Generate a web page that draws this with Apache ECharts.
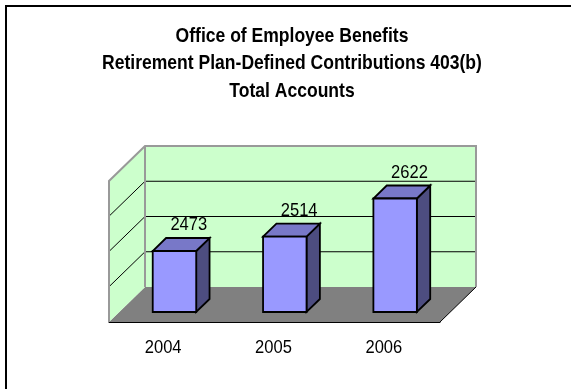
<!DOCTYPE html>
<html>
<head>
<meta charset="utf-8">
<script src="https://cdn.jsdelivr.net/npm/echarts@6/dist/echarts.min.js"></script>
<style>
  html, body { margin: 0; padding: 0; background: #fff; }
  #chart { width: 571px; height: 389px; }
</style>
</head>
<body>
<div id="chart"></div>
<script>
// Chart content
const titleLines = [
  'Office of Employee Benefits',
  'Retirement Plan-Defined Contributions 403(b)',
  'Total Accounts'
];
const years = ['2004', '2005', '2006'];
const accounts = [2473, 2514, 2622];
const valueMin = 2300;
const valueMax = 2700;
const valueStep = 100;
const wallLines = [2400, 2500, 2600];

// Oblique projection: pixel offset from the front plane to the back wall
const DEPTH = [36, -35];
// Bar depth range (0 = front edge of floor, 1 = back wall) and half width as share of a band
const BAR_FRONT = 0.286;
const BAR_BACK = 0.657;
const BAR_HALF = 0.197;

const FONT = "'Liberation Sans', Arial, sans-serif";
// tall, slightly condensed lettering
const NUM_FONT = '18.6px ' + FONT;
const NUM_SCALE_X = 0.89;
const TITLE_FONT = 'bold 20.5px ' + FONT;
const TITLE_SCALE_X = 0.855;

function shift(p, d) {
  return [p[0] + DEPTH[0] * d, p[1] + DEPTH[1] * d];
}

// Walls, floor and wall gridlines, built from the grid's own scales
function renderWalls(params, api) {
  const cs = params.coordSys;
  const left = cs.x;
  const right = cs.x + cs.width;
  const bottom = api.coord([0, valueMin])[1];
  const top = api.coord([0, valueMax])[1];

  const children = [];
  children.push({
    type: 'polygon',
    shape: { points: [[left, bottom], [right, bottom], shift([right, bottom], 1), shift([left, bottom], 1)] },
    style: { fill: '#808080', stroke: null }
  });
  children.push({
    type: 'polygon',
    shape: { points: [shift([left, top], 1), shift([right, top], 1), shift([right, bottom], 1), shift([left, bottom], 1)] },
    style: { fill: '#CCFFCC', stroke: null }
  });
  children.push({
    type: 'polygon',
    shape: { points: [[left, top], shift([left, top], 1), shift([left, bottom], 1), [left, bottom]] },
    style: { fill: '#CCFFCC', stroke: null }
  });
  wallLines.forEach(function (v) {
    const y = api.coord([0, v])[1];
    children.push({
      type: 'polyline',
      shape: { points: [[left, y], shift([left, y], 1), shift([right, y], 1)] },
      style: { stroke: '#000', lineWidth: 1, fill: null }
    });
  });
  children.push({
    type: 'polyline',
    shape: { points: [[left, bottom], [left, top], shift([left, top], 1), shift([right, top], 1), shift([right, bottom], 1)] },
    style: { stroke: '#999999', lineWidth: 2, fill: null }
  });
  const bt = shift([left, top], 1), bb = shift([left, bottom], 1);
  children.push({
    type: 'line',
    shape: { x1: bt[0], y1: bt[1], x2: bb[0], y2: bb[1] },
    style: { stroke: '#999999', lineWidth: 2 }
  });
  const fr = shift([right, bottom], 1);
  children.push({
    type: 'line',
    shape: { x1: right, y1: bottom, x2: fr[0], y2: fr[1] },
    style: { stroke: '#000', lineWidth: 1 }
  });
  return { type: 'group', children: children };
}

// One 3D column per year, its value above and the year below the floor
function renderBar(params, api) {
  const idx = api.value(0);
  const v = api.value(1);
  const topPt = api.coord([idx, v]);
  const basePt = api.coord([idx, valueMin]);
  const band = api.size([1, 0])[0];
  const hw = band * BAR_HALF;
  const x0 = topPt[0] - hw, x1 = topPt[0] + hw;
  const yt = topPt[1], yb = basePt[1];

  const ftl = shift([x0, yt], BAR_FRONT), ftr = shift([x1, yt], BAR_FRONT);
  const fbr = shift([x1, yb], BAR_FRONT), fbl = shift([x0, yb], BAR_FRONT);
  const btl = shift([x0, yt], BAR_BACK), btr = shift([x1, yt], BAR_BACK);
  const bbr = shift([x1, yb], BAR_BACK);
  const labelPt = shift([topPt[0], yt], BAR_BACK);

  const edge = { stroke: '#000', lineWidth: 1.8, lineJoin: 'miter' };
  return {
    type: 'group',
    children: [
      { type: 'polygon', shape: { points: [ftr, btr, bbr, fbr] },
        style: Object.assign({ fill: '#4D4D80' }, edge) },
      { type: 'polygon', shape: { points: [ftl, ftr, btr, btl] },
        style: Object.assign({ fill: '#7878C8' }, edge) },
      { type: 'polygon', shape: { points: [ftl, ftr, fbr, fbl] },
        style: Object.assign({ fill: '#9999FF' }, edge) },
      { type: 'text', x: labelPt[0] + 1, y: labelPt[1] - 12.7, scaleX: NUM_SCALE_X,
        style: { text: String(v), fill: '#000', font: NUM_FONT, align: 'center', verticalAlign: 'middle' } },
      { type: 'text', x: basePt[0] - 1, y: basePt[1] + 25.5, scaleX: NUM_SCALE_X,
        style: { text: years[idx], fill: '#000', font: NUM_FONT, align: 'center', verticalAlign: 'middle' } }
    ]
  };
}

const titleY = [36, 63.3, 91];

const chart = echarts.init(document.getElementById('chart'), null, { renderer: 'canvas' });

chart.setOption({
  backgroundColor: '#ffffff',
  animation: false,
  grid: { left: 109, top: 181, width: 331, height: 141 },
  xAxis: {
    type: 'category',
    data: years,
    axisLine: { lineStyle: { color: '#000', width: 1 } },
    axisTick: { length: 6, lineStyle: { color: '#000', width: 1 } },
    axisLabel: { show: false },
    splitLine: { show: false }
  },
  yAxis: {
    type: 'value',
    min: valueMin,
    max: valueMax,
    interval: valueStep,
    show: false
  },
  graphic: [{
    type: 'rect',
    silent: true,
    shape: { x: 6, y: 6, width: 640, height: 440 },
    style: { fill: 'none', stroke: '#000', lineWidth: 2 }
  }].concat(titleLines.map(function (line, i) {
    return {
      type: 'text',
      silent: true,
      x: 292,
      y: titleY[i],
      scaleX: TITLE_SCALE_X,
      style: { text: line, fill: '#000', font: TITLE_FONT, align: 'center', verticalAlign: 'middle' }
    };
  })),
  series: [
    {
      type: 'custom',
      renderItem: renderWalls,
      data: [[0, valueMin]],
      encode: { x: 0, y: 1 },
      z: 1,
      silent: true
    },
    {
      type: 'custom',
      renderItem: renderBar,
      data: years.map(function (y, i) { return [i, accounts[i]]; }),
      encode: { x: 0, y: 1 },
      z: 3
    }
  ]
});
</script>
</body>
</html>
